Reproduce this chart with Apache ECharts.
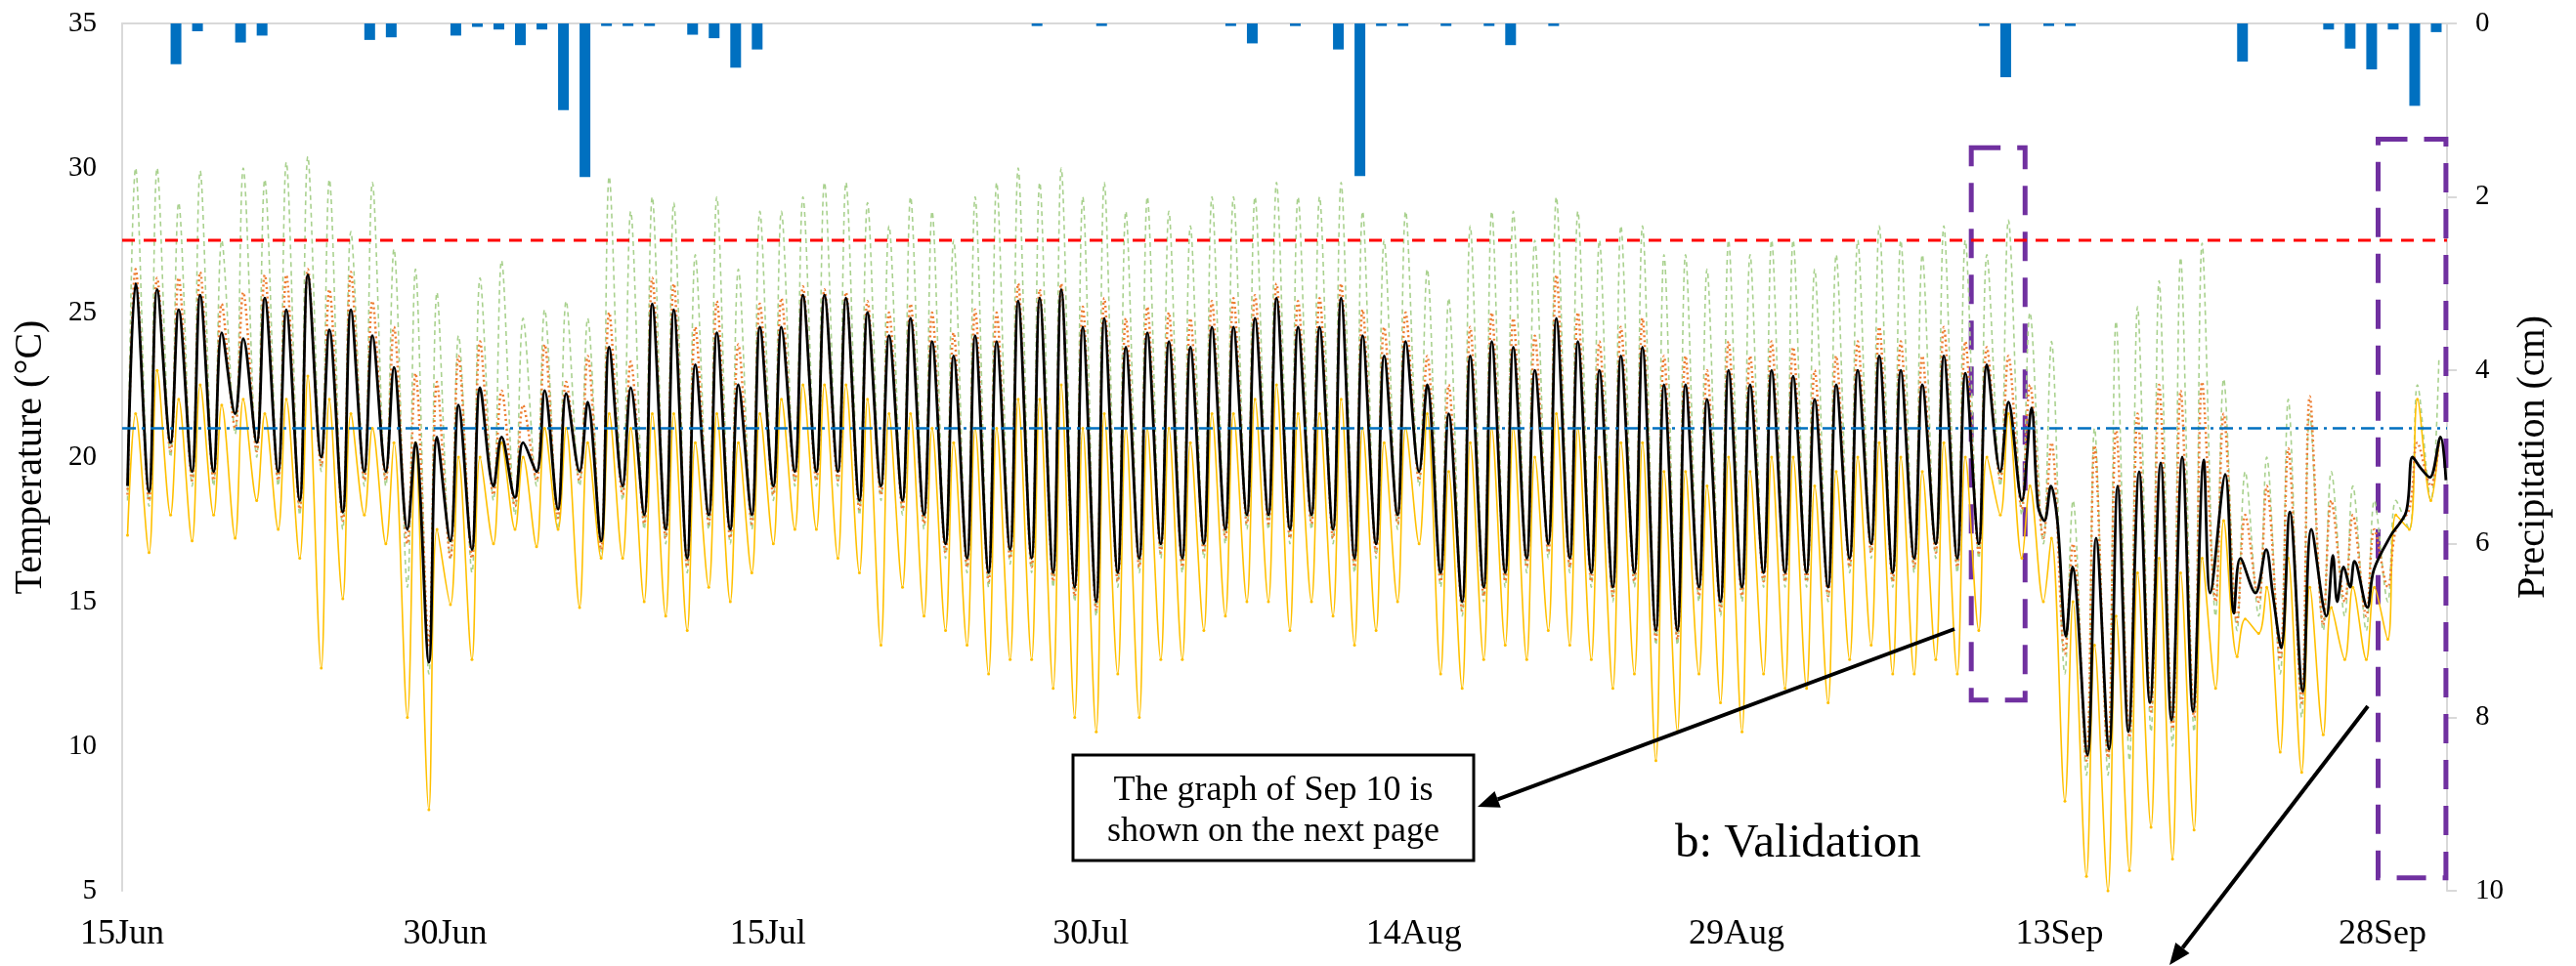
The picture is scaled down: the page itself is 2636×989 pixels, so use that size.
<!DOCTYPE html>
<html><head><meta charset="utf-8">
<script src="https://cdn.jsdelivr.net/npm/echarts@6/dist/echarts.min.js"></script>
<style>html,body{margin:0;padding:0;background:#fff}#c{width:2636px;height:989px}</style>
</head><body><div id="c"></div>
<script>
// x = days since 15 Jun (00:00)
const dayLabels = ['15Jun','30Jun','15Jul','30Jul','14Aug','29Aug','13Sep','28Sep'];
const MIN_HOUR = 6, MAX_HOUR = 15;

// black: daily min / max for days 0..87, then traced vertices
const blackMin = [19.0,18.8,20.5,19.5,19.5,21.5, 20.5,19.5,18.5,20.0,18.1,19.5, 19.5,17.5,12.9,17.1,16.8,19.0, 18.6,19.5,18.2,19.5,17.1,19.0,
  18.0,17.5,16.5,18.0,17.5,18.0, 19.0,19.5,19.5,19.5,18.5,19.0, 18.5,18.0,17.0,16.5,16.0,16.8, 16.5,16.0,15.5,15.0,16.0,16.5,
  17.0,16.5,17.0,17.5,18.0,18.0, 17.5,18.0,17.5,16.5,17.0,18.0, 19.5,16.0,15.0,15.5,16.0,16.5, 17.0,16.5,16.0,15.5,16.0,14.0,
  14.0,15.5,15.0,15.5,16.0,16.0, 16.0,15.5,16.5,17.0,16.0,16.5, 17.0,16.5,17.0,19.5];
const blackMax = [26.0,25.8,25.1,25.6,24.3,24.1, 25.5,25.1,26.3,24.4,25.1,24.2, 23.1,20.5,20.7,21.8,22.4,20.7, 20.5,22.3,22.2,21.9,23.8,22.4,
  25.3,25.1,23.2,24.3,22.5,24.5, 24.5,25.6,25.6,25.5,25.0,24.2, 24.8,24.0,23.5,24.2,24.0,25.4, 25.5,25.8,24.5,24.8,23.8,24.3,
  24.0,23.8,24.5,24.5,24.8,25.5, 24.5,24.5,25.5,24.2,23.5,24.0, 22.5,21.5,23.5,24.0,23.8,23.0, 24.8,24.0,23.0,23.5,23.8,22.5,
  22.5,22.0,23.0,22.5,23.0,22.8, 22.0,22.5,23.0,23.5,23.0,22.5, 23.5,22.9,23.2,21.9];
const blackTailT = [88.25,88.7,89.0,89.3,89.6,89.9,90.3,90.6,91.3,91.7,92.3,92.7,93.2,93.7,94.2,94.7,95.2,95.7,96.2,96.7,97.0,97.7,98.1,98.4,
  99.1,99.6,99.9,100.3,100.7,101.3,101.7,102.4,102.7,102.9,103.2,103.5,103.7,104.3,104.6,105.4,106.1,106.4,106.8,107.2,107.7,107.95];
const blackTailV = [18.5,21.7,18.3,17.8,19.0,17.8,13.8,16.2,9.7,17.2,9.9,19.0,10.5,19.5,11.5,19.8,10.9,20.0,11.2,19.9,15.3,19.4,14.6,16.5,
  15.3,16.8,15.3,13.4,18.1,11.9,17.5,14.5,16.6,15.0,16.2,15.5,16.4,14.8,16.1,17.3,18.1,20.0,19.6,19.3,20.7,19.2];

const orangeMin = [18.7,18.5,20.2,19.2,19.2,21.0, 20.2,19.2,18.2,19.7,17.8,19.2, 19.2,17.0,13.5,16.5,16.5,18.7, 18.3,19.2,17.9,19.2,16.8,18.7,
  17.7,17.2,16.2,17.7,17.2,17.7, 18.7,19.2,19.2,19.2,18.2,18.7, 18.2,17.7,16.7,16.2,15.7,16.5, 16.2,15.7,15.2,14.7,15.7,16.2,
  16.7,16.2,16.7,17.2,17.7,17.7, 17.2,17.7,17.2,16.2,16.7,17.7, 19.2,15.7,14.7,15.2,15.7,16.2, 16.7,16.2,15.7,15.2,15.7,13.7,
  13.7,15.2,14.7,15.2,15.7,15.7, 15.7,15.2,16.2,16.7,15.7,16.2, 16.7,16.2,16.7,19.2,18.2,17.2, 13.2,9.5,9.6,10.3,11.2,10.6,
  11.0,15.0,14.3,15.0,13.0,11.5, 14.2,15.0,14.5,15.5,18.2,19.0];
const orangeMax = [26.5,26.2,26.2,26.4,25.3,25.7, 26.3,26.3,26.5,25.8,26.4,25.4, 24.5,22.9,22.6,23.5,24.0,22.3, 21.8,23.9,22.6,23.5,25.0,23.3,
  26.2,26.0,24.5,25.4,23.9,25.3, 25.5,25.9,25.8,25.7,25.4,25.0, 25.3,25.0,24.3,25.1,25.0,26.0, 25.8,26.0,25.2,25.5,24.8,25.2,
  25.0,24.8,25.4,25.5,25.6,26.0, 25.4,25.5,26.0,25.1,24.5,25.0, 23.5,22.5,24.5,25.0,24.8,24.2, 26.3,25.0,24.0,24.5,24.8,23.5,
  23.5,23.0,24.0,23.5,24.0,23.8, 23.0,23.5,24.0,24.5,24.0,23.5, 24.5,24.0,23.8,23.5,22.5,20.5, 17.0,20.4,21.0,21.5,22.5,22.3,
  22.6,21.5,18.0,19.0,20.3,22.1, 18.5,18.0,17.5,17.5,20.5,20.5];

const greenMin = [18.5,18.3,20.0,19.0,19.0,20.8, 20.0,19.0,18.0,19.5,17.5,19.0, 19.0,15.5,12.5,16.5,16.0,18.5, 18.0,19.0,17.5,19.0,16.5,18.5,
  17.5,17.0,16.0,17.5,17.0,17.5, 18.5,19.0,19.0,19.0,18.0,18.5, 18.0,17.5,16.5,16.0,15.5,16.3, 16.0,15.5,15.0,14.5,15.5,16.0,
  16.5,16.0,16.5,17.0,17.5,17.5, 17.0,17.5,17.0,16.0,16.5,17.5, 19.0,15.5,14.5,15.0,15.5,16.0, 16.5,16.0,15.5,15.0,15.5,13.5,
  13.5,15.0,14.5,15.0,15.5,15.5, 15.5,15.0,16.0,16.5,15.5,16.0, 16.5,16.0,16.5,19.0,18.0,17.0, 12.5,9.0,9.0,9.5,10.5,10.0,
  10.5,14.5,14.0,14.5,12.5,11.0, 14.0,14.5,14.0,15.0,17.5,18.5];
const greenMax = [30.0,30.0,28.8,29.9,27.5,30.0, 29.6,30.2,30.4,29.6,27.8,29.5, 27.2,26.5,25.7,24.2,26.2,26.8, 24.8,25.1,25.4,24.8,29.7,28.5,
  29.0,28.8,27.0,29.0,26.5,28.5, 28.5,29.0,29.5,29.5,28.8,28.0, 29.0,28.5,27.5,29.0,29.5,30.0, 29.5,30.0,29.0,29.5,28.5,29.0,
  28.5,28.0,29.0,29.0,29.0,29.5, 29.0,29.0,29.5,28.5,27.5,28.5, 26.5,25.5,28.0,28.5,28.5,27.5, 29.0,28.5,27.5,28.0,28.0,27.0,
  27.0,26.5,27.5,27.0,27.5,27.5, 26.5,27.0,27.5,28.0,27.5,27.0, 28.0,27.5,27.0,28.2,25.0,24.0, 18.5,21.0,24.7,25.2,26.1,26.9,
  27.4,22.7,19.5,20.0,22.0,21.5, 19.5,19.0,18.5,18.5,22.5,23.4];

const yellowMin = [17.3,16.7,18.0,17.1,18.0,17.2, 18.5,17.5,16.5,12.7,15.1,18.0, 17.0,11.0,7.8,14.9,13.0,17.0, 17.5,16.9,17.5,14.8,16.5,16.5,
  15.0,14.5,14.0,15.5,15.0,16.0, 17.0,17.5,17.5,16.5,16.0,13.5, 15.5,14.5,14.0,13.5,12.5,13.0, 13.0,12.0,11.0,10.5,12.5,11.0,
  13.0,13.0,14.0,14.5,15.0,15.0, 14.0,15.0,14.5,13.5,14.0,15.0, 17.0,12.5,12.0,13.0,13.5,13.0, 14.0,13.5,13.0,12.0,12.5,9.5,
  10.5,12.5,11.5,10.5,12.5,12.0, 12.0,11.5,13.0,13.5,12.5,12.5, 13.0,12.5,14.0,18.0,16.5,15.0, 8.1,5.5,5.0,5.7,7.2,6.1,
  7.1,12.0,13.1,13.9,9.8,9.1, 10.4,13.0,13.0,13.7,17.5,18.5];
const yellowMax = [21.5,23.0,22.0,22.5,21.8,22.0, 21.5,22.0,22.8,22.0,21.5,21.0, 20.5,20.5,17.5,20.0,20.0,20.5, 20.0,21.0,21.0,20.5,21.5,21.0,
  21.5,21.5,20.5,21.5,20.5,21.5, 22.0,22.5,22.5,22.5,22.0,21.5, 21.5,21.0,20.5,21.0,21.0,22.0, 22.0,22.5,21.0,21.5,21.0,21.0,
  21.0,20.5,21.5,21.5,22.0,22.5, 21.5,21.5,22.0,21.0,20.5,21.0, 21.5,19.5,20.5,21.0,21.0,20.0, 21.5,21.0,20.0,20.5,20.5,19.5,
  19.5,19.0,20.0,19.5,20.0,20.0, 19.0,19.5,20.0,20.5,20.0,19.5, 20.5,20.0,20.0,21.5,19.0,17.2, 15.0,13.5,14.5,16.0,16.5,16.0,
  16.5,17.8,14.4,15.5,16.5,15.5, 14.8,15.5,15.5,18.0,22.0,20.5];

// precipitation (cm), day index of each daily bar
const precipDay = [2,3,5,6,11,12,15,16,17,18,19,20,21,22,23,24,26,27,28,29,42,45,51,52,54,56,57,58,59,61,63,64,66,86,87,89,90,98,102,103,104,105,106,107];
const precipCm  = [0.47,0.09,0.22,0.14,0.19,0.16,0.14,0.04,0.07,0.25,0.07,1.0,1.77,0.03,0.03,0.03,0.13,0.17,0.51,0.30,0.03,0.03,0.03,0.23,0.03,0.30,1.76,0.03,0.03,0.03,0.03,0.25,0.03,0.03,0.62,0.03,0.03,0.44,0.07,0.29,0.53,0.07,0.95,0.10];

const upperLimit = 27.5, lowerLimit = 21;
// dashed highlight boxes [xStart, yTop, xEnd, yBottom] in data units
const boxes = [[85.9, 30.7, 88.4, 11.6], [104.8, 31.0, 107.95, 5.45]];

function pairs(mins, maxs) {
  const out = [];
  for (let i = 0; i < mins.length; i++) {
    out.push([i + MIN_HOUR / 24, mins[i]]);
    out.push([i + MAX_HOUR / 24, maxs[i]]);
  }
  return out;
}
const blackData = pairs(blackMin, blackMax).concat(blackTailT.map((t, i) => [t, blackTailV[i]]));
const precipData = precipDay.map((d, i) => [d + 0.5, precipCm[i]]);

const FONT = 'Liberation Serif';
const chart = echarts.init(document.getElementById('c'), null, {renderer: 'canvas'});

function arrow(x1, y1, x2, y2) {
  const ang = Math.atan2(y2 - y1, x2 - x1), L = 22, W = 9;
  const bx = x2 - L * Math.cos(ang), by = y2 - L * Math.sin(ang);
  const px = -Math.sin(ang) * W, py = Math.cos(ang) * W;
  return [
    {type: 'line', shape: {x1: x1, y1: y1, x2: bx, y2: by}, style: {stroke: '#000', lineWidth: 4}},
    {type: 'polygon', shape: {points: [[x2, y2], [bx + px, by + py], [bx - px, by - py]]}, style: {fill: '#000'}}
  ];
}
function txt(x, y, s, size, align) {
  return {type: 'text', x: x, y: y, z: 101,
    style: {text: s, fontFamily: FONT, fontSize: size, fill: '#000', align: align, verticalAlign: 'middle'}};
}

const option = {
  backgroundColor: '#fff',
  animation: false,
  textStyle: {fontFamily: FONT},
  grid: {left: 125, right: 132, top: 24, bottom: 77},
  xAxis: {
    type: 'value', min: 0, max: 108, interval: 15,
    axisLine: {lineStyle: {color: '#d9d9d9', width: 2}},
    axisTick: {show: false}, splitLine: {show: false},
    axisLabel: {formatter: v => dayLabels[Math.round(v / 15)] || '', fontFamily: FONT, fontSize: 36, color: '#000', margin: 27}
  },
  yAxis: [
    {type: 'value', min: 5, max: 35, interval: 5,
     name: 'Temperature (°C)', nameLocation: 'middle', nameGap: 74,
     nameTextStyle: {fontFamily: FONT, fontSize: 40, color: '#000'},
     axisLine: {show: true, lineStyle: {color: '#d9d9d9', width: 2}},
     axisTick: {show: false}, splitLine: {show: false},
     axisLabel: {fontFamily: FONT, fontSize: 29, color: '#000', margin: 26}},
    {type: 'value', min: 0, max: 10, interval: 2, inverse: true, position: 'right',
     name: 'Precipitation (cm)', nameLocation: 'middle', nameGap: 62, nameRotate: 90,
     nameTextStyle: {fontFamily: FONT, fontSize: 40, color: '#000'},
     axisLine: {show: true, lineStyle: {color: '#d9d9d9', width: 2}},
     axisTick: {show: true, length: 10, lineStyle: {color: '#d9d9d9', width: 2}}, splitLine: {show: false},
     axisLabel: {fontFamily: FONT, fontSize: 29, color: '#000', margin: 29}}
  ],
  series: [
    {type: 'bar', yAxisIndex: 1, data: precipData, barWidth: 11, itemStyle: {color: '#0070C0'}, z: 1},
    {type: 'line', data: pairs(greenMin, greenMax), showSymbol: false, smooth: 0.35,
     lineStyle: {color: '#A9D18E', width: 1.6, type: [5, 4]}, z: 2},
    {type: 'line', data: pairs(yellowMin, yellowMax), symbol: 'circle', symbolSize: 3, showSymbol: true, smooth: 0.35,
     itemStyle: {color: '#FFC000'}, lineStyle: {color: '#FFC000', width: 1.6}, z: 3},
    {type: 'line', data: pairs(orangeMin, orangeMax), showSymbol: false, smooth: 0.35,
     lineStyle: {color: '#ED7D31', width: 2.5, type: [2, 3]}, z: 4},
    {type: 'line', data: blackData, showSymbol: false, smooth: 0.35,
     lineStyle: {color: '#000', width: 2.8}, z: 5},
    {type: 'line', data: [[0, upperLimit], [108, upperLimit]], showSymbol: false,
     lineStyle: {color: '#FF0000', width: 3, type: [13, 9]}, z: 6},
    {type: 'line', data: [[0, lowerLimit], [108, lowerLimit]], showSymbol: false,
     lineStyle: {color: '#0070C0', width: 2.5, type: [14, 6, 3, 6]}, z: 6,
     markArea: {silent: true,
       itemStyle: {color: 'rgba(0,0,0,0)', borderColor: '#7030A0', borderWidth: 5, borderType: [30, 17]},
       data: boxes.map(b => [{xAxis: b[0], yAxis: b[1]}, {xAxis: b[2], yAxis: b[3]}])}}
  ],
  graphic: [
    {type: 'rect', shape: {x: 1098, y: 773, width: 410, height: 108}, style: {fill: '#fff', stroke: '#000', lineWidth: 3}, z: 100},
    txt(1303, 810, 'The graph of Sep 10 is', 36, 'center'),
    txt(1303, 852, 'shown on the next page', 36, 'center'),
    txt(1714, 864, 'b: Validation', 49, 'left'),
    ...arrow(2000, 644, 1512, 826).map(e => Object.assign(e, {z: 102})),
    ...arrow(2423, 723, 2220, 988).map(e => Object.assign(e, {z: 102}))
  ]
};
chart.setOption(option);
</script></body></html>
